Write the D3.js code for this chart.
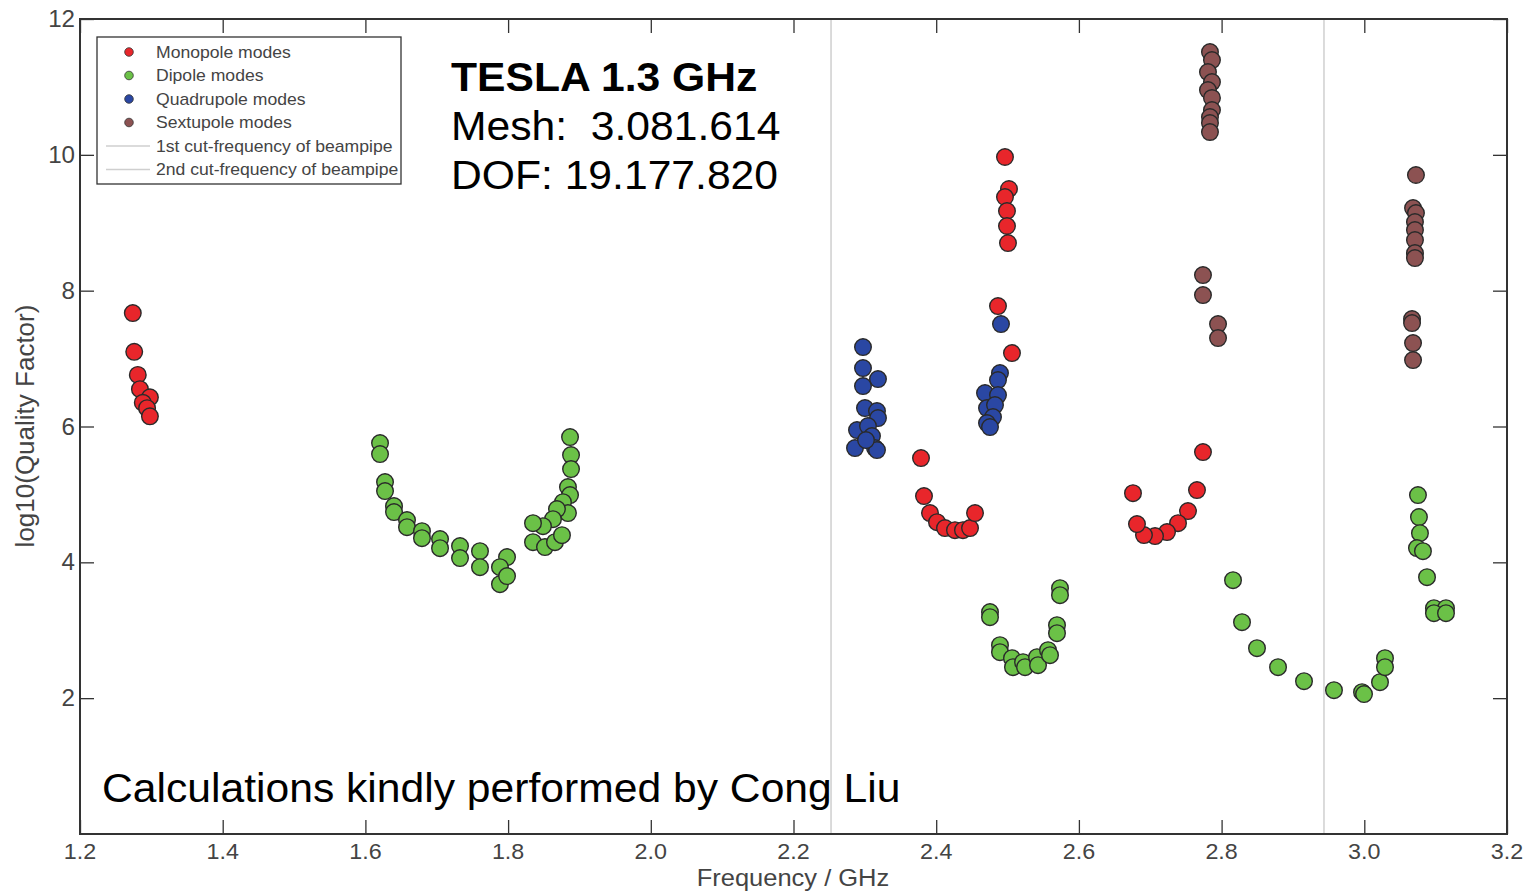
<!DOCTYPE html>
<html>
<head>
<meta charset="utf-8">
<script src="https://cdn.jsdelivr.net/npm/d3@7"></script>
<style>
  html, body { margin: 0; padding: 0; background: #fff; }
  svg { display: block; font-family: "Liberation Sans", Arial, sans-serif; }
  text { white-space: pre; }
</style>
</head>
<body>
<svg id="chart" width="1532" height="893"></svg>
<script>
// ---- Data (frequency GHz, log10 Q) ----
const monopoleFreq = [1.274, 1.276, 1.281, 1.284, 1.298, 1.288, 1.294, 1.298,
  2.3787, 2.3829, 2.3913, 2.4011, 2.4123, 2.4263, 2.4375, 2.4474, 2.4544,
  2.4964, 2.5020, 2.4964, 2.4992, 2.4992, 2.5006, 2.4866, 2.5062,
  2.7739, 2.6758, 2.7655, 2.7529, 2.7389, 2.7235, 2.7067, 2.6912, 2.6814];
const monopoleQ = [7.67, 7.10, 6.76, 6.55, 6.43, 6.35, 6.27, 6.15,
  5.535, 4.975, 4.725, 4.592, 4.504, 4.474, 4.474, 4.504, 4.725,
  9.968, 9.497, 9.379, 9.173, 8.952, 8.701, 7.773, 7.081,
  5.623, 5.019, 5.064, 4.754, 4.577, 4.445, 4.386, 4.401, 4.563];

const dipoleFreq = [1.6205, 1.6205, 1.6275, 1.6275, 1.6401, 1.6401, 1.6583, 1.6583, 1.6793, 1.6793,
  1.7046, 1.7046, 1.7326, 1.7326, 1.7606, 1.7606, 1.7985, 1.7886, 1.7886, 1.7985,
  1.8868, 1.8882, 1.8882, 1.8839, 1.8868, 1.8769, 1.8839, 1.8685, 1.8629, 1.8489,
  1.8349, 1.8349, 1.8517, 1.8657, 1.8755,
  2.4754, 2.4754, 2.4894, 2.4894, 2.5062, 2.5076, 2.5217, 2.5245, 2.5413, 2.5427,
  2.5567, 2.5595, 2.5693, 2.5693, 2.5735, 2.5735,
  2.8160, 2.8286, 2.8496, 2.8791, 2.9155, 2.9575, 2.9968, 2.9996, 3.0220, 3.0290, 3.0290,
  3.0752, 3.0766, 3.0780, 3.0738, 3.0822, 3.0879, 3.0976, 3.1145, 3.0976, 3.1145];
const dipoleQ = [5.756, 5.594, 5.181, 5.049, 4.828, 4.740, 4.622, 4.518, 4.459, 4.356,
  4.342, 4.209, 4.239, 4.062, 4.165, 3.929, 4.077, 3.929, 3.679, 3.797,
  5.844, 5.579, 5.373, 5.108, 4.990, 4.886, 4.725, 4.784, 4.636, 4.533,
  4.577, 4.297, 4.224, 4.297, 4.400,
  3.267, 3.193, 2.780, 2.677, 2.589, 2.457, 2.530, 2.457, 2.604, 2.486,
  2.707, 2.633, 3.075, 2.957, 3.620, 3.517,
  3.738, 3.119, 2.736, 2.457, 2.250, 2.118, 2.088, 2.060, 2.236, 2.589, 2.457,
  4.990, 4.666, 4.430, 4.210, 4.165, 3.782, 3.325, 3.325, 3.252, 3.252];

const quadFreq = [2.2974, 2.2974, 2.3184, 2.2974, 2.3002, 2.3170, 2.3184, 2.2890, 2.3044, 2.3100,
  2.2862, 2.3142, 2.3170, 2.3016,
  2.4908, 2.4894, 2.4866, 2.4684, 2.4866, 2.4712, 2.4824, 2.4796, 2.4712, 2.4754];
const quadQ = [7.169, 6.860, 6.698, 6.595, 6.271, 6.227, 6.124, 5.947, 6.006, 5.859,
  5.682, 5.682, 5.653, 5.80,
  7.508, 6.786, 6.683, 6.492, 6.463, 6.271, 6.315, 6.139, 6.050, 5.991];

const sextFreq = [2.7837, 2.7865, 2.7809, 2.7865, 2.7809, 2.7865, 2.7865, 2.7837, 2.7837, 2.7837,
  2.7739, 2.7739, 2.7950, 2.7950,
  3.0724, 3.0683, 3.0724, 3.0710, 3.0710, 3.0710, 3.0710, 3.0710, 3.0669, 3.0669, 3.0683, 3.0683];
const sextQ = [11.514, 11.396, 11.219, 11.072, 10.954, 10.837, 10.660, 10.557, 10.468, 10.336,
  8.230, 7.935, 7.508, 7.302,
  9.703, 9.217, 9.143, 9.01, 8.892, 8.745, 8.554, 8.480, 7.582, 7.523, 7.229, 6.978];

const cutFrequencies = [2.2526, 2.9435];
const xTicks = [1.2, 1.4, 1.6, 1.8, 2.0, 2.2, 2.4, 2.6, 2.8, 3.0, 3.2];
const yTicks = [2, 4, 6, 8, 10, 12];
const legendLabels = ["Monopole modes", "Dipole modes", "Quadrupole modes", "Sextupole modes",
  "1st cut-frequency of beampipe", "2nd cut-frequency of beampipe"];
const seriesColors = ["#e8262b", "#6bc147", "#2a47a3", "#8c5252"];
const infoLines = ["TESLA 1.3 GHz", "Mesh:  3.081.614", "DOF: 19.177.820"];
const creditText = "Calculations kindly performed by Cong Liu";

// ---- Layout ----
const svg = d3.select("#chart");
const L = 80, R = 1507, T = 19, B = 834;
const x = d3.scaleLinear().domain([1.2, 3.2]).range([L, R]);
const y = d3.scaleLinear().domain([0, 12]).range([B, T]);

// text helper with slight horizontal stretch
function stext(parent, px, py, str, size, sx, opts = {}) {
  const g = parent.append("g").attr("transform", `translate(${px},${py}) scale(${sx},1)`);
  const t = g.append("text").attr("x", 0).attr("y", 0).attr("font-size", size)
    .attr("fill", opts.fill || "#444")
    .attr("text-anchor", opts.anchor || "start")
    .attr("font-weight", opts.weight || "normal")
    .text(str);
  return t;
}

// cut-frequency lines
svg.selectAll("line.cut").data(cutFrequencies).enter().append("line")
  .attr("x1", d => x(d)).attr("x2", d => x(d))
  .attr("y1", T).attr("y2", B)
  .attr("stroke", "#cfcfcf").attr("stroke-width", 1.5);

// axes with inward ticks
const axisColor = "#333";
const fmtX = d3.format(".1f");
const gB = svg.append("g").attr("transform", `translate(0,${B})`)
  .call(d3.axisTop(x).tickValues(xTicks).tickSize(14).tickFormat(""));
const gT = svg.append("g").attr("transform", `translate(0,${T})`)
  .call(d3.axisBottom(x).tickValues(xTicks).tickSize(14).tickFormat(""));
const gL = svg.append("g").attr("transform", `translate(${L},0)`)
  .call(d3.axisRight(y).tickValues(yTicks).tickSize(14).tickFormat(""));
const gR = svg.append("g").attr("transform", `translate(${R},0)`)
  .call(d3.axisLeft(y).tickValues(yTicks).tickSize(14).tickFormat(""));
[gB, gT, gL, gR].forEach(g => {
  g.select(".domain").remove();
  g.selectAll("line").attr("stroke", axisColor).attr("stroke-width", 1.3);
});

// frame
svg.append("rect").attr("x", L).attr("y", T).attr("width", R - L).attr("height", B - T)
  .attr("fill", "none").attr("stroke", axisColor).attr("stroke-width", 2);

// tick labels
xTicks.forEach(d => stext(svg, x(d), B + 25, fmtX(d), 22, 1.06, { anchor: "middle" }));
yTicks.forEach(d => stext(svg, L - 5, y(d) + 8, String(d), 23, 1.05, { anchor: "end" }));

// axis titles
stext(svg, 793, 886, "Frequency / GHz", 24.5, 1.04, { anchor: "middle" });
svg.append("text").attr("transform", `translate(34,${426}) rotate(-90)`)
  .attr("text-anchor", "middle").attr("font-size", 26).attr("fill", "#444")
  .text("log10(Quality Factor)");

// points
const series = [
  [monopoleFreq, monopoleQ],
  [dipoleFreq, dipoleQ],
  [quadFreq, quadQ],
  [sextFreq, sextQ]
];
series.forEach((s, i) => {
  const pts = s[0].map((f, k) => ({ f: f, q: s[1][k] }));
  svg.append("g").selectAll("circle").data(pts).enter().append("circle")
    .attr("cx", d => x(d.f)).attr("cy", d => y(d.q)).attr("r", 8.3)
    .attr("fill", seriesColors[i]).attr("stroke", "#2a2a2a").attr("stroke-width", 1.4);
});

// legend
const lg = svg.append("g");
lg.append("rect").attr("x", 97).attr("y", 37).attr("width", 304).attr("height", 147)
  .attr("fill", "#fff").attr("stroke", "#333").attr("stroke-width", 1.3);
legendLabels.forEach((lab, i) => {
  const yy = 52 + i * 23.5;
  if (i < 4) {
    lg.append("circle").attr("cx", 129).attr("cy", yy).attr("r", 4.3)
      .attr("fill", seriesColors[i]).attr("stroke", "#333").attr("stroke-width", 0.8);
  } else {
    lg.append("line").attr("x1", 106).attr("x2", 150).attr("y1", yy).attr("y2", yy)
      .attr("stroke", "#cfcfcf").attr("stroke-width", 1.3);
  }
  stext(lg, 156, yy + 5.5, lab, 16, 1.1);
});

// info text
infoLines.forEach((t, i) => {
  stext(svg, 451, 91 + i * 49, t, 40, 1.066, { fill: "#000", weight: i === 0 ? "bold" : "normal" });
});
stext(svg, 102, 802, creditText, 40, 1.066, { fill: "#000" });
</script>
</body>
</html>
